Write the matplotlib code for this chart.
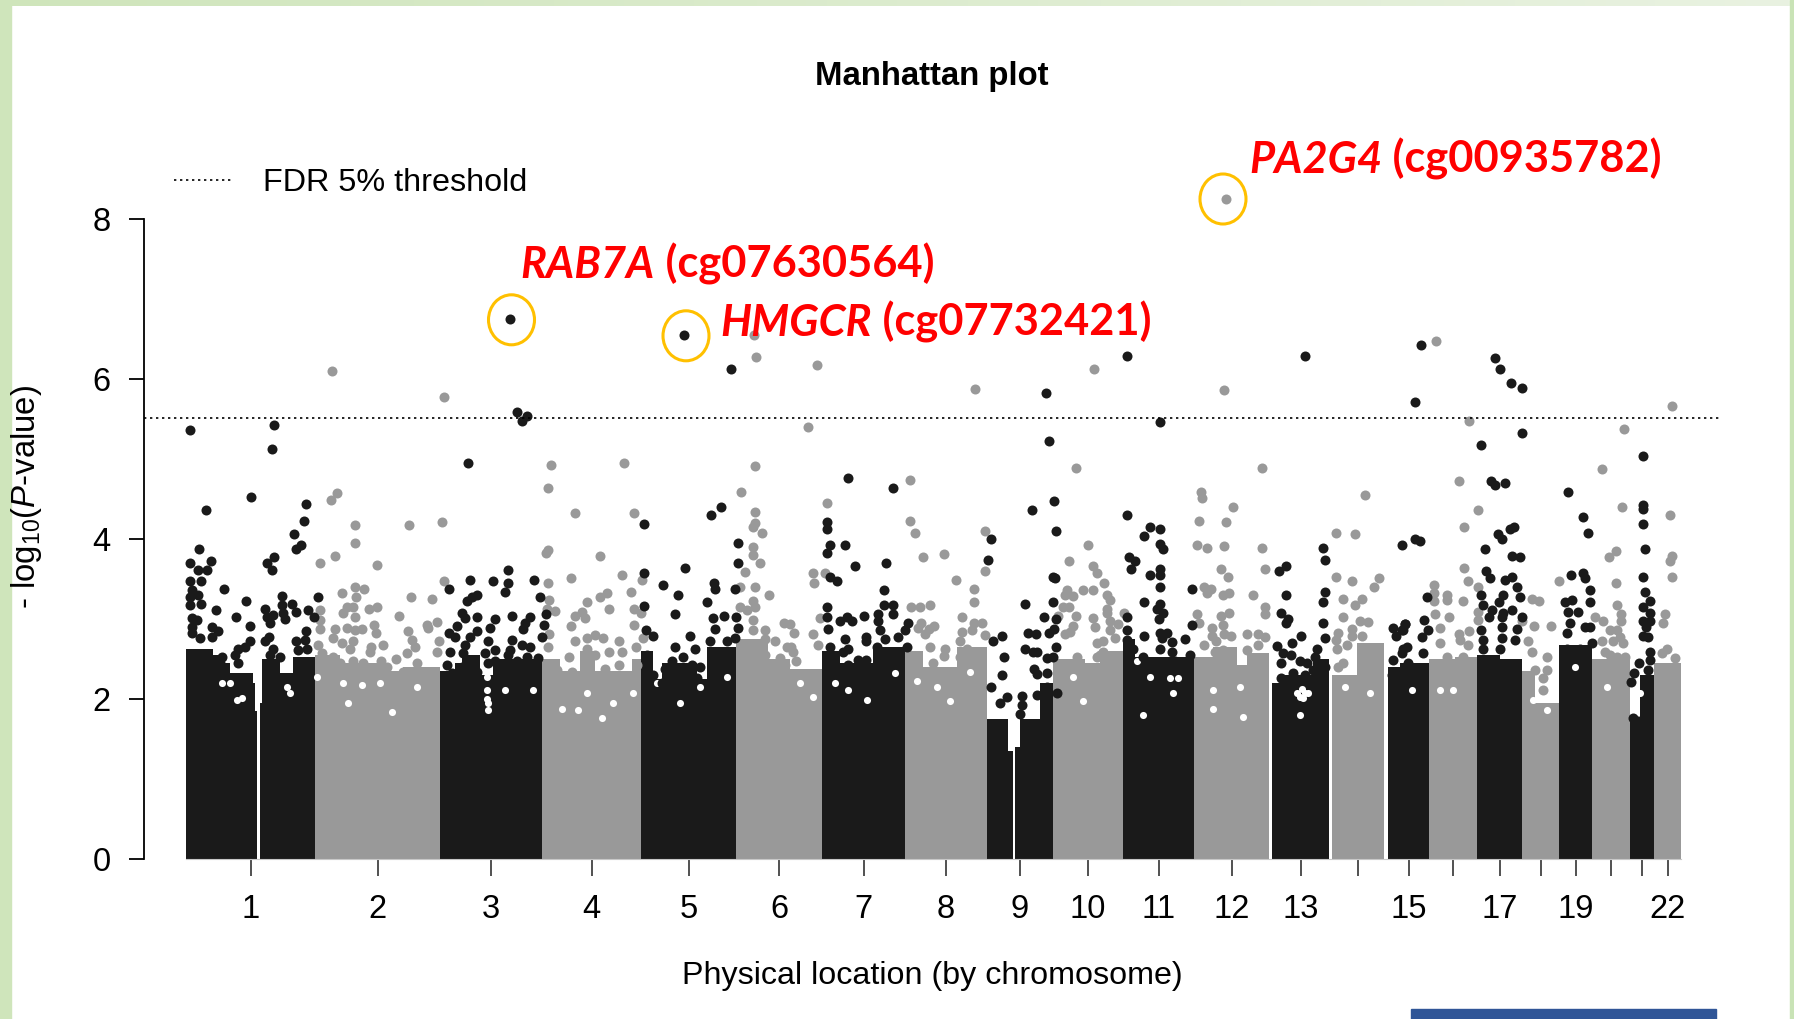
import numpy as np
import matplotlib
matplotlib.use('Agg')
import matplotlib.pyplot as plt
from matplotlib.patches import Ellipse, Rectangle

plt.rcParams['font.family'] = ['Liberation Sans', 'DejaVu Sans']
plt.rcParams['mathtext.fontset'] = 'custom'
plt.rcParams['mathtext.rm'] = 'Liberation Sans'
plt.rcParams['mathtext.it'] = 'Liberation Sans:italic'

# x is a plain cumulative genome position, y is -log10(P)
chrom_start = [16, 145, 270, 372, 471, 566, 652, 735, 817, 883, 953, 1024, 1102, 1162, 1218, 1259, 1307, 1352, 1389, 1422, 1460, 1484]
chrom_end = [145, 270, 372, 471, 566, 652, 735, 817, 883, 953, 1024, 1099, 1159, 1214, 1259, 1307, 1352, 1389, 1422, 1460, 1484, 1511]
chrom_labels = ['1', '2', '3', '4', '5', '6', '7', '8', '9', '10', '11', '12', '13', '', '15', '', '17', '', '19', '', '', '22']
fdr_threshold = 5.51

# solid part of the cloud: position where a level starts, and that level
solid_pos = [16, 43, 53, 60, 83, 85, 87, 90, 92, 110, 123,
             145, 170, 217, 233,
             270, 285, 292, 310, 323,
             372, 390, 410, 425, 462,
             471, 483, 492, 527, 537,
             566, 598, 620,
             652, 670, 703,
             735, 753, 787,
             817, 838, 843, 845, 850, 870,
             883, 915, 930,
             953, 965,
             1024, 1043, 1067, 1077,
             1102, 1110, 1143,
             1162, 1187,
             1218, 1230,
             1259, 1285,
             1307, 1330,
             1352, 1365,
             1389,
             1422,
             1460, 1470,
             1484]
solid_top = [2.63, 2.55, 2.45, 2.33, 2.2, 1.85, 0, 1.95, 2.5, 2.33, 2.53,
             2.55, 2.45, 2.35, 2.4,
             2.35, 2.45, 2.55, 2.3, 2.5,
             2.5, 2.35, 2.6, 2.35, 2.5,
             2.6, 2.25, 2.45, 2.25, 2.65,
             2.75, 2.5, 2.38,
             2.6, 2.45, 2.65,
             2.6, 2.4, 2.65,
             1.75, 1.35, 0, 1.4, 1.75, 2.2,
             2.5, 2.45, 2.6,
             2.75, 2.53,
             2.53, 2.65, 2.42, 2.57,
             2.2, 2.3, 2.5,
             2.3, 2.7,
             2.4, 2.45,
             2.5, 2.53,
             2.55, 2.5,
             2.35, 1.95,
             2.67,
             2.5,
             1.75, 2.3,
             2.45]

hole_pos = [51.7, 60, 66.7, 116.7, 120, 146.7, 173.3, 191.7, 210, 246.7, 221.7, 178.3, 71.7,
            316.7, 318.3, 335, 363.3, 391.7, 408.3, 431.7, 463.3, 416.7, 443.3, 486.7, 530, 556.7, 510,
            630, 643.3, 678.3, 665, 725, 696.7, 746.7, 780, 800, 766.7, 903.3, 913.3,
            966.7, 980, 1000, 1008.3, 1003.3, 973.3, 1043.3, 1070, 1043.3, 1073.3, 1130, 1135, 1130, 1175, 1183.3, 1200,
            1241.7, 1283.3, 1270, 1376.7, 1363.3, 1436.7, 1376.7, 1405, 1470, 1465,
            316.7, 317, 318, 1126.7, 1133.3, 1138.3, 1131.7]
hole_val = [2.2, 2.2, 1.99, 2.15, 2.07, 2.28, 2.2, 2.17, 2.2, 2.15, 1.84, 1.95, 2.01,
            2.11, 1.86, 2.11, 2.11, 1.88, 1.86, 1.76, 2.07, 2.07, 1.95, 2.2, 2.15, 2.28, 1.95,
            2.2, 2.03, 2.11, 2.2, 2.32, 1.99, 2.22, 1.97, 2.34, 2.15, 2.28, 1.97,
            2.47, 2.28, 2.26, 2.26, 2.07, 1.8, 2.11, 2.15, 1.88, 1.78, 2.03, 2.07, 1.8, 2.15, 2.4, 2.07,
            2.11, 2.11, 2.11, 2.2, 1.99, 2.15, 1.86, 2.4, 2.07, 1.86,
            2.28, 2.0, 1.95, 2.07, 2.01, 2.07, 2.13]

dark_pos = [340.3, 514, 561, 1135, 1251, 1325, 1330, 1341, 1352, 957, 876,
            20.3, 103.7, 102, 81.3, 35.7, 135.7, 134.3, 124, 131, 125.7, 29, 20.3, 40.7, 28.3, 37.3, 97, 103.7, 102, 20.3, 30.7, 54.3, 76.3, 45.7, 66.3, 79.7, 80.3,
            21.7, 28.3, 20, 30.7, 20, 112, 122.3, 112.3, 126.3, 137.7, 95.3, 96.7, 103.3, 113.3, 100, 115, 148.3, 144, 135.7, 125.7, 99.3, 95, 21.7, 26.7, 21.7, 21.7, 30, 41.7, 48.3, 41.7, 68.3, 75, 65, 68.3, 51.7, 50, 103.3, 100, 110, 128.3, 135, 136.7,
            297.7, 279, 300.3, 296.7, 301.7, 306.7, 291.7, 295, 306.7, 287.3, 279.3, 285, 306.7, 300, 295, 280, 293.3, 291.7, 276.7, 281.7, 306.7,
            346.7, 357.3, 351.7, 338.3, 323, 338.3, 335, 364, 370, 341.7, 325, 319.7, 318, 325, 314.7, 325, 318.3, 360, 355, 353.3, 374, 375.7, 372.3, 341.7, 351.7, 340, 360, 338.3, 346.7, 356.7, 368.3,
            474, 474.3, 474, 475.7, 483.3, 540.7, 551, 568, 568, 515.3, 493, 508.3, 537.3, 544, 545, 565, 505, 520, 505, 525, 513.3, 542.7, 554.3, 566, 567.7, 545, 540, 556.7, 565, 476.7, 483.3, 495, 501.7, 521.7, 530, 546.7, 491.7, 526.7,
            678.3, 722.7, 656.7, 656.7, 660, 656.7, 675.3, 685.3, 716, 660, 666.7, 714.3, 714.3, 722.7, 722.7, 656.7, 656.7, 658.3, 670, 676.7, 682.3, 694, 707.7, 707.7, 710, 715, 675, 696, 696, 738.3, 735, 728.3, 736.7, 660, 678.3, 673.3, 688.3, 696, 706.7, 716.7, 678.3, 685, 663.3, 710,
            821.3, 818, 879.3, 884.3, 862.3, 885.7, 882.7, 885, 855.3, 882.7, 874, 886, 884.3, 879.3, 858.3, 866, 886, 855.3, 866.7, 862.7, 883.3, 876.7, 823, 831.7, 834, 831.7, 821.3, 864, 866.7, 876.7, 836.7, 830, 851.7, 851.7, 850, 866.7, 876.7, 886.7,
            989.7, 957.3, 979.7, 974.3, 989.7, 989.7, 993, 959.3, 964.7, 961, 979.7, 989.7, 989.7, 989.7, 1022.3, 974.3, 989.7, 986.7, 993.3, 989.3, 957.3, 1022.3, 974.3, 990, 996.7, 991.7, 1001.7, 1001.7, 1015, 957.3, 957.3, 963.3, 1005, 990, 973.3, 1020,
            1153, 1154.7, 1116, 1109, 1154.7, 1153, 1116, 1110.7, 1118.3, 1116, 1153, 1130.7, 1122.3, 1107.3, 1154.7, 1113.3, 1120.7, 1146.7, 1145, 1110.7, 1110.7, 1123.3, 1130, 1136.7, 1143.3, 1135, 1155,
            1222.7, 1235, 1226, 1231.7, 1233.3, 1223.3, 1238.3, 1221.7,
            1245, 1352, 1311, 1321.3, 1325, 1335, 1398, 1328.3, 1331.7, 1340, 1344, 1314.7, 1341.7, 1350.3, 1316.3, 1319.7, 1335, 1342, 1347, 1350.3, 1311, 1333.3, 1329.3, 1313.3, 1321.7, 1319.3, 1333.3, 1341.7, 1331.7, 1351.7, 1346.7, 1311, 1331.7, 1313.3, 1331.7, 1345, 1313.3, 1330,
            1257, 1254, 1258.3, 1251.7, 1234.7, 1233.3, 1237.3, 1231.7, 1253.3, 1231.7, 1245, 1250,
            1413, 1418.3, 1401.3, 1413, 1415, 1420, 1420, 1395, 1401.7, 1398.3, 1408.3, 1400, 1415, 1396.7, 1420, 1421.7, 1396.7, 1410,
            1473, 1473, 1473, 1473, 1474.7, 1473, 1474.7, 1480, 1473, 1480, 1473, 1480, 1476, 1473, 1478.3, 1480, 1480, 1469.3, 1478.3, 1464, 1460.7, 1463.3, 1468.3]
dark_val = [6.75, 6.55, 6.13, 6.29, 6.42, 6.26, 6.13, 5.95, 5.89, 6.29, 5.83,
            5.36, 5.42, 5.12, 4.53, 4.36, 4.44, 4.23, 4.06, 3.92, 3.87, 3.87, 3.70, 3.72, 3.61, 3.61, 3.70, 3.77, 3.61, 3.47, 3.47, 3.38, 3.23, 3.11, 3.02, 2.91, 2.72,
            3.36, 3.30, 3.28, 3.19, 3.17, 3.29, 3.19, 3.18, 3.09, 3.11, 3.13, 3.03, 3.05, 3.07, 2.95, 3.0, 3.28, 3.02, 2.85, 2.73, 2.78, 2.72, 3.01, 2.99, 2.90, 2.82, 2.76, 2.90, 2.85, 2.78, 2.63, 2.65, 2.55, 2.45, 2.53, 2.45, 2.63, 2.55, 2.53, 2.61, 2.74, 2.63,
            4.95, 3.38, 3.49, 3.22, 3.28, 3.30, 3.07, 3.01, 3.03, 2.91, 2.83, 2.77, 2.85, 2.78, 2.68, 2.59, 2.57, 2.40, 2.43, 2.32, 2.34,
            5.59, 5.54, 5.48, 3.61, 3.47, 3.45, 3.34, 3.49, 3.27, 3.04, 3.0, 2.89, 2.72, 2.61, 2.57, 2.47, 2.45, 3.02, 2.95, 2.88, 2.93, 3.06, 2.77, 2.74, 2.68, 2.61, 2.65, 2.55, 2.47, 2.53, 2.51,
            4.19, 3.57, 3.16, 2.86, 2.79, 4.30, 4.40, 3.95, 3.70, 3.64, 3.42, 3.30, 3.21, 3.45, 3.37, 3.38, 3.06, 2.79, 2.65, 2.63, 2.53, 3.01, 3.04, 3.02, 2.89, 2.88, 2.72, 2.72, 2.76, 2.55, 2.30, 2.38, 2.47, 2.43, 2.40, 2.55, 2.20, 2.26,
            4.76, 4.64, 4.21, 4.13, 3.92, 3.83, 3.92, 3.66, 3.70, 3.53, 3.47, 3.36, 3.17, 3.17, 3.06, 3.15, 3.03, 2.88, 2.97, 3.02, 2.97, 3.04, 3.06, 2.97, 2.86, 2.75, 2.75, 2.78, 2.72, 2.95, 2.86, 2.77, 2.65, 2.65, 2.63, 2.59, 2.49, 2.49, 2.65, 2.59, 2.43, 2.30, 2.40, 2.49,
            4.0, 3.74, 5.23, 4.47, 4.36, 4.10, 3.53, 3.51, 3.19, 3.21, 3.02, 3.0, 2.87, 2.83, 2.83, 2.81, 2.65, 2.62, 2.59, 2.59, 2.53, 2.51, 2.72, 2.79, 2.52, 2.30, 2.15, 2.38, 2.31, 2.32, 2.03, 1.95, 2.04, 1.92, 1.81, 2.05, 2.15, 2.07,
            5.46, 4.30, 4.15, 4.04, 4.13, 3.94, 3.87, 3.77, 3.72, 3.63, 3.55, 3.63, 3.55, 3.40, 3.38, 3.21, 3.19, 3.13, 3.08, 3.0, 3.02, 2.93, 2.79, 2.82, 2.83, 2.76, 2.71, 2.59, 2.75, 2.86, 2.74, 2.63, 2.47, 2.63, 2.53, 2.55,
            3.89, 3.74, 3.66, 3.60, 3.34, 3.21, 3.30, 3.08, 3.0, 2.95, 2.95, 2.79, 2.70, 2.66, 2.76, 2.57, 2.55, 2.63, 2.53, 2.45, 2.26, 2.32, 2.47, 2.45, 2.36, 2.30, 2.40,
            2.89, 2.94, 2.79, 2.86, 2.63, 2.49, 2.45, 2.30,
            5.71, 5.32, 5.17, 4.72, 4.68, 4.70, 4.59, 4.06, 4.0, 4.13, 4.15, 3.87, 3.79, 3.77, 3.60, 3.51, 3.49, 3.53, 3.40, 3.28, 3.30, 3.30, 3.21, 3.18, 3.11, 3.02, 3.08, 3.11, 3.03, 3.02, 2.88, 2.86, 2.90, 2.74, 2.76, 2.74, 2.63, 2.63,
            3.28, 2.99, 2.86, 2.77, 2.94, 2.86, 2.65, 2.57, 2.57, 3.92, 4.0, 3.98,
            4.28, 4.08, 3.55, 3.57, 3.51, 3.36, 3.21, 3.21, 3.24, 3.09, 3.09, 2.95, 2.90, 2.82, 2.90, 2.70, 2.63, 2.63,
            5.04, 4.43, 4.38, 4.19, 3.87, 3.53, 3.34, 3.23, 3.15, 3.08, 2.98, 2.98, 2.90, 2.79, 2.77, 2.59, 2.49, 2.45, 2.36, 2.32, 2.21, 1.76, 1.72]

grey_pos = [1056, 162, 274, 584, 586, 647, 805, 924, 1054, 1266,
            166.7, 161.3, 185.3, 185.3, 164.7, 149.7, 207.3, 239.3, 272, 274, 172.3, 185.3, 194, 186, 240.7, 261.7, 207.3, 199, 182.7, 176.7, 172.7, 149.7, 149.7, 149.7, 185.3, 229.3, 204, 205.7, 165, 176.7, 185.3, 192.3, 238, 257, 266.7, 258.3, 163.3, 171.7, 183.3, 180, 241.7, 245, 269.3, 266.7, 200.7, 200, 212.7, 236.7, 148.3, 151.7, 163.3, 226, 210.7, 183.3, 246.7, 233.3, 216.7, 170, 193.3,
            380.7, 377.7, 404.7, 454, 464, 585, 571.3, 585, 585, 583.3, 591.7, 377.7, 375.7, 430.3, 452.3, 401.3, 377.7, 472.3, 575, 583.3, 583.3, 590, 570, 585, 599, 461, 416.7, 436.7, 430.3, 439, 464.3, 471, 464, 405, 411.7, 415, 401.3, 379.3, 385, 376.7, 583.3, 570, 576.7, 585, 405, 449, 439, 452.3, 466, 399.3, 473.3, 379, 378.3, 614, 595, 583.3, 583.3, 595, 605, 616.7, 610, 615, 416.7, 425, 433.3, 416.7, 425, 416.7, 386.7, 401.7, 449, 435, 466.7, 595,
            637.7, 740, 740, 745, 656.7, 753.3, 773.7, 642.7, 654.7, 644.3, 814.7, 814.7, 785.7, 804.3, 804.3, 899.3, 918.3, 906.3, 923.3, 926.7, 913.3, 923.3, 896.7, 895, 903.3, 893.3, 899.3, 906.3, 887.7, 903.3, 895, 900, 650, 642.7, 648, 741, 750, 760, 792.3, 792.3, 751, 748.3, 764, 759.3, 755, 804.3, 811.7, 801.7, 815, 790, 760, 775, 774, 796.7, 790, 801.7, 763.3, 923.3, 925, 926.7, 620, 624.3, 623.3, 626, 621.3, 926.7, 906.7,
            1091.7, 1030.7, 1032.3, 1062.7, 1028.7, 1056, 1027, 1037.3, 1054.3, 1091.7, 1051, 1057.7, 1095, 1034, 1040.7, 1037.3, 1052.7, 1059.3, 1083, 1095, 1095, 1027, 1028.7, 1051, 1059.3, 1052.7, 1042.3, 1042.3, 1045.7, 1054.3, 1061, 1034, 1076.7, 1088.3, 1095, 1088.3, 1076.7, 1045, 1053.3,
            1195.3, 1166.3, 1185, 1166.3, 1182, 1209.3, 1204, 1173.3, 1192, 1185.3, 1173.3, 1190, 1198.3, 1182, 1168, 1182, 1192, 1166.3, 1176.7, 1166.7, 1173.3, 1168.3, 1191.7,
            933.7, 936.7, 940, 936.7, 936.7, 954, 940, 948.3, 940, 933.3, 945, 930, 933.3,
            1501.7, 1299.3, 1454, 1431.7, 1289, 1452.3, 1307.7, 1294.3, 1500, 1445.7, 1439, 1501.7, 1500, 1294.3, 1501.7, 1297.7, 1307.7, 1389.3, 1445.7, 1263.7, 1263.7, 1276.7, 1263.7, 1276.7, 1292.7, 1362.3, 1369.3, 1447.3, 1450.7, 1450.7, 1279, 1265.3, 1270, 1307.7, 1307.7, 1299.3, 1289.3, 1364, 1381, 1352.3, 1495, 1493.3, 1425, 1433.3, 1440, 1446.7, 1450, 1431.7, 1443.3, 1453.3, 1358.3, 1361.7, 1376.7, 1435, 1440, 1446.7, 1455, 1496.7, 1491.7, 1505, 1505, 1270, 1276.7, 1298.3, 1290, 1293.3, 1365, 1376.7, 1373.3, 1373.3]
grey_val = [8.25, 6.10, 5.78, 6.55, 6.28, 6.18, 5.88, 6.12, 5.86, 6.48,
            4.57, 4.49, 4.17, 3.95, 3.79, 3.70, 3.68, 4.17, 4.21, 3.47, 3.33, 3.40, 3.38, 3.28, 3.28, 3.25, 3.15, 3.12, 3.15, 3.15, 3.07, 3.11, 2.99, 2.87, 3.02, 3.04, 2.93, 2.82, 2.87, 2.89, 2.86, 2.87, 2.85, 2.93, 2.96, 2.89, 2.76, 2.70, 2.73, 2.62, 2.74, 2.65, 2.72, 2.59, 2.65, 2.59, 2.67, 2.57, 2.68, 2.57, 2.53, 2.50, 2.48, 2.48, 2.45, 2.34, 2.40, 2.45, 2.45,
            4.93, 4.64, 4.32, 4.95, 4.32, 4.91, 4.59, 4.34, 4.20, 4.15, 4.08, 3.86, 3.83, 3.79, 3.55, 3.51, 3.45, 3.49, 3.59, 3.90, 3.80, 3.70, 3.40, 3.40, 3.30, 3.34, 3.21, 3.32, 3.28, 3.12, 3.12, 3.08, 2.93, 3.04, 3.09, 3.01, 2.91, 3.24, 3.10, 3.13, 3.23, 3.15, 3.11, 3.15, 2.72, 2.72, 2.59, 2.59, 2.65, 2.53, 2.76, 2.81, 2.65, 2.95, 2.86, 2.99, 2.86, 2.75, 2.72, 2.65, 2.51, 2.43, 2.76, 2.80, 2.76, 2.63, 2.55, 2.45, 2.36, 2.34, 2.43, 2.38, 2.43, 2.55,
            5.40, 4.74, 4.23, 4.08, 4.45, 3.77, 3.81, 3.57, 3.57, 3.45, 4.10, 3.60, 3.49, 3.38, 3.21, 3.72, 3.93, 4.89, 3.66, 3.57, 3.36, 3.36, 3.36, 3.30, 3.29, 3.15, 3.15, 3.04, 3.04, 2.91, 2.81, 2.84, 3.01, 2.81, 2.68, 3.15, 3.15, 3.17, 3.02, 2.84, 2.95, 2.89, 2.91, 2.87, 2.81, 2.95, 2.95, 2.86, 2.80, 2.73, 2.65, 2.63, 2.54, 2.63, 2.53, 2.45, 2.45, 3.01, 2.90, 2.70, 2.94, 2.83, 2.59, 2.47, 2.65, 2.53, 2.53,
            4.89, 4.59, 4.51, 4.40, 4.23, 4.21, 3.93, 3.89, 3.91, 3.89, 3.62, 3.53, 3.62, 3.40, 3.38, 3.32, 3.30, 3.32, 3.30, 3.15, 3.06, 3.06, 2.95, 3.04, 3.08, 2.93, 2.89, 2.79, 2.72, 2.81, 2.79, 2.68, 2.81, 2.81, 2.77, 2.68, 2.61, 2.59, 2.61,
            4.55, 4.08, 4.06, 3.53, 3.47, 3.51, 3.40, 3.25, 3.25, 3.17, 3.02, 2.98, 2.96, 2.87, 2.83, 2.79, 2.79, 2.74, 2.68, 2.63, 2.45, 2.40, 2.38,
            3.45, 3.30, 3.24, 3.13, 3.07, 3.08, 2.97, 2.94, 2.86, 2.72, 2.76, 2.55, 2.59,
            5.66, 5.47, 5.38, 4.87, 4.72, 4.40, 4.36, 4.15, 4.30, 3.85, 3.77, 3.79, 3.72, 3.64, 3.53, 3.47, 3.40, 3.47, 3.45, 3.43, 3.32, 3.30, 3.22, 3.24, 3.23, 3.25, 3.23, 3.17, 3.06, 2.98, 3.02, 3.06, 2.89, 3.09, 2.99, 2.85, 2.81, 2.91, 2.91, 2.97, 3.06, 2.95, 3.03, 2.97, 2.86, 2.86, 2.78, 2.73, 2.73, 2.70, 2.72, 2.59, 2.53, 2.59, 2.55, 2.53, 2.53, 2.63, 2.57, 2.51, 2.38, 2.70, 2.53, 2.68, 2.74, 2.53, 2.36, 2.36, 2.26, 2.11]

circled_pos = [341.5, 516, 1053]
circled_val = [6.74, 6.54, 8.25]

gene_names = ['RAB7A', 'HMGCR', 'PA2G4']
probe_names = [' (cg07630564)', ' (cg07732421)', ' (cg00935782)']
label_pos = [350.5, 550, 1079]
label_val = [7.43, 6.70, 8.74]

dark = '#1a1a1a'
grey = '#999999'

fig = plt.figure(figsize=(17.94, 10.19), dpi=100)
fig.patches.append(Rectangle((0, 0), 11 / 1794, 1, transform=fig.transFigure, color='#cfe5bb', figure=fig))
fig.patches.append(Rectangle((1790 / 1794, 0), 4 / 1794, 1, transform=fig.transFigure, color='#c9e3b6', figure=fig))
fig.patches.append(Rectangle((1411 / 1794, 0), 305 / 1794, 10 / 1019, transform=fig.transFigure, color='#2f5597', figure=fig))

band = fig.add_axes([0, 1 - 6 / 1019, 1, 6 / 1019])
band.imshow(np.linspace(0, 1, 256).reshape(1, -1), aspect='auto',
            cmap=matplotlib.colors.LinearSegmentedColormap.from_list('top', ['#cfe5bb', '#e9f2e1']))
band.axis('off')

ax = fig.add_axes([0, 0, 1, 1])
ax.patch.set_alpha(0)
ax.set_xlim(-170, 1624)
ax.set_ylim(-2, 10.7375)

solid_pos = np.array(solid_pos, dtype=float)
solid_top = np.array(solid_top, dtype=float)
for i in range(len(chrom_start)):
    keep = (solid_pos >= chrom_start[i]) & (solid_pos < chrom_end[i])
    xs = np.r_[solid_pos[keep], chrom_end[i]]
    ys = np.r_[solid_top[keep], solid_top[keep][-1]]
    ax.fill_between(xs, 0, ys, step='post', color=dark if i % 2 == 0 else grey, lw=0, zorder=1)

ax.scatter(hole_pos, hole_val, s=26, color='white', linewidths=0, zorder=2)
ax.scatter(grey_pos, grey_val, s=52, color=grey, linewidths=0, zorder=3)
ax.scatter(dark_pos, dark_val, s=52, color=dark, linewidths=0, zorder=4)

ax.plot([-26, 1550], [fdr_threshold, fdr_threshold], color='black', lw=1.2,
        linestyle=(0, (1.4, 2.2)), zorder=5, label='FDR 5% threshold')

for p, v in zip(circled_pos, circled_val):
    ax.add_patch(Ellipse((p, v), 46, 50 / 80, fill=False, edgecolor='#ffc000', lw=2.2, zorder=6))

for g, c, p, v in zip(gene_names, probe_names, label_pos, label_val):
    t = ax.text(p, v, g, color='#ff0000', fontsize=31.2, family='Lato', weight='bold', style='italic', va='center', ha='left')
    ax.annotate(c, xy=(1, 0), xycoords=t, xytext=(0, 0), textcoords='offset points', color='#ff0000',
                fontsize=31.2, family='Lato', weight='bold', va='bottom', ha='left')

for s in ['top', 'right']:
    ax.spines[s].set_visible(False)
ax.spines['left'].set_position(('data', -26))
ax.spines['left'].set_bounds(0, 8)
ax.spines['left'].set_linewidth(1.3)
ax.spines['bottom'].set_position(('data', 0))
ax.spines['bottom'].set_bounds(chrom_start[0], chrom_end[-1])
ax.spines['bottom'].set_color('#c8c8c8')

ax.set_yticks([0, 2, 4, 6, 8])
ax.tick_params(axis='y', length=11, width=1.3, pad=13, labelsize=23.5)
ax.set_xticks([(a + b) / 2 for a, b in zip(chrom_start, chrom_end)])
ax.set_xticklabels(chrom_labels)
ax.tick_params(axis='x', length=12, width=1.2, color='#333333', pad=13, labelsize=23.5)

ax.legend(loc='upper left', bbox_to_anchor=(174 / 1794, 1 - 168 / 1019), frameon=False, fontsize=23.3,
          handlelength=1.85, handletextpad=0.9, borderpad=0, borderaxespad=0)

fig.text(932 / 1794, 1 - 77 / 1019, 'Manhattan plot', fontsize=23.7, weight='bold', ha='center', va='center')
fig.text(932 / 1794, 1 - 976 / 1019, 'Physical location (by chromosome)', fontsize=23.2, ha='center', va='center')
fig.text(27 / 1794, 1 - 497 / 1019, r'- log$_{10}$($\mathit{P}$-value)', fontsize=23.7, rotation=90, ha='center', va='center')

fig.savefig('out.png', dpi=100)
